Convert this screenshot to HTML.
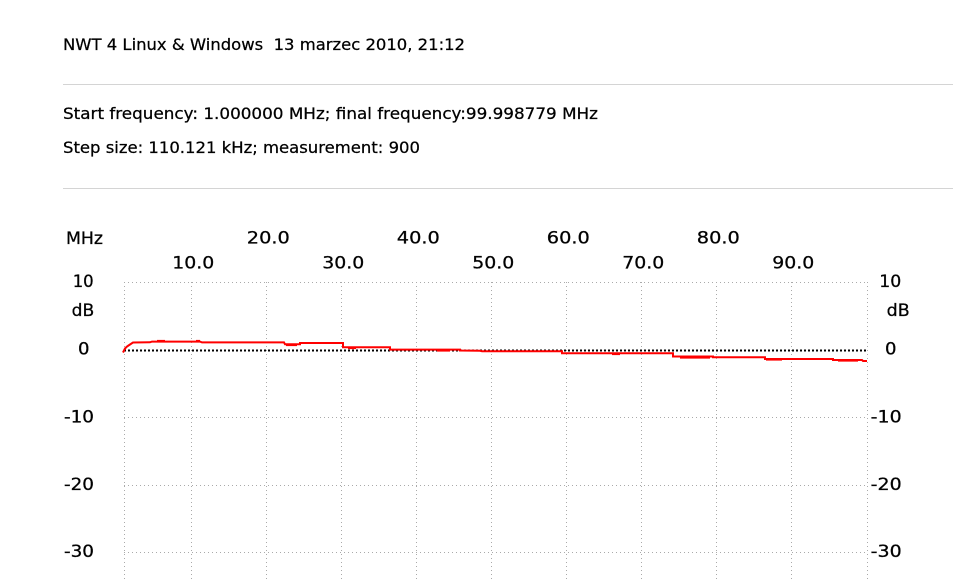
<!DOCTYPE html>
<html>
<head>
<meta charset="utf-8">
<style>
  html,body{margin:0;padding:0;background:#fff;}
  svg{display:block;}
  text{font-family:"DejaVu Sans","Liberation Sans",sans-serif;fill:#000;}
</style>
</head>
<body>
<svg width="953" height="580" viewBox="0 0 953 580" xmlns="http://www.w3.org/2000/svg">
  <rect width="953" height="580" fill="#fff"/>

  <!-- header -->
  <g stroke="#000" stroke-width="0.25">
  <text x="63" y="50" font-size="16" textLength="402" lengthAdjust="spacingAndGlyphs" xml:space="preserve">NWT 4 Linux &amp; Windows  13 marzec 2010, 21:12</text>
  <text x="63" y="119" font-size="16" textLength="535" lengthAdjust="spacingAndGlyphs">Start frequency: 1.000000 MHz; final frequency:99.998779 MHz</text>
  <text x="63" y="153" font-size="16" textLength="357" lengthAdjust="spacingAndGlyphs">Step size: 110.121 kHz; measurement: 900</text>
  </g>
  <line x1="63" y1="84.5" x2="953" y2="84.5" stroke="#d4d4d4" stroke-width="1"/>
  <line x1="63" y1="188.5" x2="953" y2="188.5" stroke="#d4d4d4" stroke-width="1"/>

  <!-- x axis labels -->
  <g font-size="16.5" text-anchor="middle" stroke="#111" stroke-width="0.3">
    <text x="84.5" y="244" textLength="37" lengthAdjust="spacingAndGlyphs">MHz</text>
    <text x="268.3" y="243.5" textLength="43" lengthAdjust="spacingAndGlyphs">20.0</text>
    <text x="418.3" y="243.5" textLength="43" lengthAdjust="spacingAndGlyphs">40.0</text>
    <text x="568.3" y="243.5" textLength="43" lengthAdjust="spacingAndGlyphs">60.0</text>
    <text x="718.3" y="243.5" textLength="43" lengthAdjust="spacingAndGlyphs">80.0</text>
    <text x="193.3" y="268.5" textLength="42" lengthAdjust="spacingAndGlyphs">10.0</text>
    <text x="343.3" y="268.5" textLength="42" lengthAdjust="spacingAndGlyphs">30.0</text>
    <text x="493.3" y="268.5" textLength="42" lengthAdjust="spacingAndGlyphs">50.0</text>
    <text x="643.3" y="268.5" textLength="42" lengthAdjust="spacingAndGlyphs">70.0</text>
    <text x="793.3" y="268.5" textLength="42" lengthAdjust="spacingAndGlyphs">90.0</text>
  </g>

  <!-- y axis labels left -->
  <g font-size="16.5" stroke="#111" stroke-width="0.3">
    <text x="72.7" y="287" textLength="21" lengthAdjust="spacingAndGlyphs">10</text>
    <text x="71.7" y="316" textLength="22.6" lengthAdjust="spacingAndGlyphs">dB</text>
    <text x="78" y="354.5" textLength="11.5" lengthAdjust="spacingAndGlyphs">0</text>
    <text x="64" y="422.5" textLength="30" lengthAdjust="spacingAndGlyphs">-10</text>
    <text x="64" y="490" textLength="30" lengthAdjust="spacingAndGlyphs">-20</text>
    <text x="64" y="557" textLength="30" lengthAdjust="spacingAndGlyphs">-30</text>
  </g>
  <!-- y axis labels right -->
  <g font-size="16.5" stroke="#111" stroke-width="0.3">
    <text x="879.3" y="287" textLength="22" lengthAdjust="spacingAndGlyphs">10</text>
    <text x="886.7" y="316" textLength="23" lengthAdjust="spacingAndGlyphs">dB</text>
    <text x="885" y="354.5" textLength="11.5" lengthAdjust="spacingAndGlyphs">0</text>
    <text x="870.7" y="422.5" textLength="31" lengthAdjust="spacingAndGlyphs">-10</text>
    <text x="870.7" y="490" textLength="31" lengthAdjust="spacingAndGlyphs">-20</text>
    <text x="870.7" y="557" textLength="31" lengthAdjust="spacingAndGlyphs">-30</text>
  </g>

  <!-- grid -->
  <g stroke="#aaaaaa" stroke-width="1" stroke-dasharray="1 3" fill="none">
    <line x1="124" y1="282.5" x2="868" y2="282.5"/>
    <line x1="124" y1="417.5" x2="868" y2="417.5"/>
    <line x1="124" y1="485.5" x2="868" y2="485.5"/>
    <line x1="124" y1="552.5" x2="868" y2="552.5"/>
    <line x1="124.5" y1="282" x2="124.5" y2="580"/>
    <line x1="191.5" y1="282" x2="191.5" y2="580"/>
    <line x1="266.5" y1="282" x2="266.5" y2="580"/>
    <line x1="341.5" y1="282" x2="341.5" y2="580"/>
    <line x1="416.5" y1="282" x2="416.5" y2="580"/>
    <line x1="491.5" y1="282" x2="491.5" y2="580"/>
    <line x1="566.5" y1="282" x2="566.5" y2="580"/>
    <line x1="641.5" y1="282" x2="641.5" y2="580"/>
    <line x1="716.5" y1="282" x2="716.5" y2="580"/>
    <line x1="791.5" y1="282" x2="791.5" y2="580"/>
    <line x1="867.5" y1="282" x2="867.5" y2="580"/>
  </g>
  <!-- 0 dB reference -->
  <line x1="124" y1="350.5" x2="868" y2="350.5" stroke="#000" stroke-width="2" stroke-dasharray="2 2"/>

  <!-- trace -->
  <polyline fill="none" stroke="#ff0000" stroke-width="2" stroke-linejoin="miter"
    points="123,352.5 125,348.5 127,346.5 130,344.5 133,342.5 150,342.3 152,341.6 200,341.6 202,342.4 284,342.4 285,344.3 300,344.3 300,343 343,343 343,347.2 390,347.2 390,349.6 460,349.6 460,350.5 480,350.8 482,351.2 562,351.2 562,353.3 673,353.3 673,356.5 713,356.5 713,357.3 765,357.3 765,359 833,359 833,360 862,360 863,361 867,361"/>
  <!-- small glitches -->
  <g stroke="#ff0000" stroke-width="1.2">
    <line x1="157" y1="340.5" x2="165" y2="340.5"/>
    <line x1="196" y1="340.5" x2="200" y2="340.5"/>
    <line x1="286" y1="345.5" x2="297" y2="345.5"/>
    <line x1="348" y1="348.5" x2="356" y2="348.5"/>
    <line x1="437" y1="351" x2="450" y2="351"/>
    <line x1="612" y1="354.5" x2="620" y2="354.5"/>
    <line x1="680" y1="358" x2="710" y2="358"/>
    <line x1="766" y1="360" x2="782" y2="360"/>
    <line x1="838" y1="361" x2="858" y2="361"/>
  </g>
</svg>
</body>
</html>
